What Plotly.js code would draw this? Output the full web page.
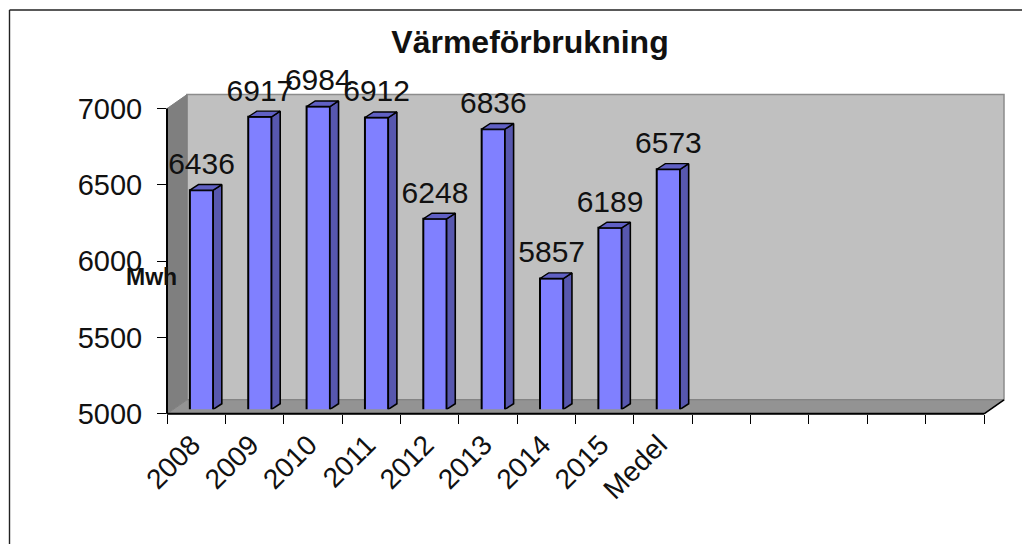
<!DOCTYPE html>
<html><head><meta charset="utf-8">
<script src="https://cdn.plot.ly/plotly-3.0.1.min.js"></script>
<style>html,body{margin:0;padding:0;background:#fff}#c{width:1022px;height:544px}</style>
</head><body><div id="c"></div>
<script>
const categories = ['2008','2009','2010','2011','2012','2013','2014','2015','Medel'];
const values = [6436,6917,6984,6912,6248,6836,5857,6189,6573];
const slotCount = 14;
const yTicks = [5000,5500,6000,6500,7000];

const W = 1022, H = 544;
const px = { left:167, right:984, bottom:413.8, top:108.6, depthX:20, depthY:14, barShift:4.5 };
const fx = p => p / W, fy = p => 1 - p / H;
const unitX = (px.right - px.left) / slotCount;
const unitY = (px.bottom - px.top) / 2000;

// bar geometry in data units
const barOffset = -0.108, barWidth = 0.4;
const sideDX = 8.6 / unitX, sideDY = 5.6 / unitY, labelGap = 3 / unitY;
const base = 5000;
// the bar axis runs further up so labels above 7000 stay in range
const barAxisMax = 7500;

const slots = Array.from({length: slotCount}, (_, i) => i);
const tickText = slots.map(i => categories[i] || '');
const boundaries = Array.from({length: slotCount + 1}, (_, i) => i - 0.5);

const sideX = [], sideY = [], topX = [], topY = [];
values.forEach((v, i) => {
  const l = i + barOffset, r = l + barWidth;
  sideX.push(r, r + sideDX, r + sideDX, r, r, null);
  sideY.push(base, base + sideDY, v + sideDY, v, base, null);
  topX.push(l, l + sideDX, r + sideDX, r, l, null);
  topY.push(v, v + sideDY, v + sideDY, v, v, null);
});

const ink = '#111111';
const font = 'Liberation Sans, Arial, sans-serif';

const traces = [
  { type:'scatter', mode:'markers', x: values.map((_, i) => i), y: values, xaxis:'x', yaxis:'y',
    marker:{ opacity:0, size:1 }, hoverinfo:'skip' },
  { type:'bar', x: values.map((_, i) => i), y: values, base: 0,
    width: barWidth, offset: barOffset, xaxis:'x', yaxis:'y2',
    marker:{ color:'#8080ff', line:{ color:'#000', width:2 } }, hoverinfo:'x+y' },
  { type:'scatter', mode:'lines', x: sideX, y: sideY, xaxis:'x', yaxis:'y2', fill:'toself',
    fillcolor:'#5757ae', line:{ color:'#000', width:1.6 }, hoverinfo:'skip', cliponaxis:false },
  { type:'scatter', mode:'lines', x: topX, y: topY, xaxis:'x', yaxis:'y2', fill:'toself',
    fillcolor:'#6060c4', line:{ color:'#000', width:1.4 }, hoverinfo:'skip', cliponaxis:false },
  { type:'scatter', mode:'text', x: values.map((_, i) => i + barOffset + barWidth / 2),
    y: values.map(v => v + sideDY + labelGap), text: values.map(String), textposition:'top center',
    textfont:{ family:font, size:30, color:ink }, xaxis:'x', yaxis:'y2',
    cliponaxis:false, hoverinfo:'skip' }
];

const poly = pts => 'M' + pts.map(p => fx(p[0]) + ',' + fy(p[1])).join('L') + 'Z';
const s = (path, fill, color, width) => ({ type:'path', xref:'paper', yref:'paper', layer:'below',
  path, fillcolor:fill, line:{ color, width } });
const edge = (x0, y0, x1, y1, color, width) => ({ type:'line', xref:'paper', yref:'paper', layer:'above',
  x0:fx(x0), y0:fy(y0), x1:fx(x1), y1:fy(y1), line:{ color, width } });
const L = px.left, R = px.right, T = px.top, B = px.bottom, dx = px.depthX, dy = px.depthY;
const barTopPx = (B - px.barShift) - (barAxisMax - 5000) * unitY;

const layout = {
  width:W, height:H, margin:{ l:0, r:0, t:0, b:0 },
  paper_bgcolor:'#ffffff', plot_bgcolor:'rgba(0,0,0,0)', showlegend:false,
  title:{ text:'<b>Värmeförbrukning</b>', x:fx(530), xanchor:'center', y:fy(42), yanchor:'middle',
    font:{ family:font, size:32, color:ink } },
  xaxis:{ type:'linear', domain:[fx(L), fx(R)], range:[-0.5, slotCount - 0.5], anchor:'y',
    tickmode:'array', tickvals:slots, ticktext:tickText, ticks:'', tickangle:-45,
    tickfont:{ family:font, size:28, color:ink }, ticklabelstandoff:8, ticklabelshift:-4,
    showgrid:false, zeroline:false, showline:false,
    minor:{ tickmode:'array', tickvals:boundaries, ticks:'outside', ticklen:9, tickwidth:1.4, tickcolor:'#000', showgrid:false } },
  yaxis:{ domain:[fy(B), fy(T)], range:[5000, 7000], anchor:'x',
    tickmode:'array', tickvals:yTicks, ticks:'outside', ticklen:9, tickwidth:1.4, tickcolor:'#000',
    tickfont:{ family:font, size:29, color:ink }, ticklabelstandoff:9,
    showgrid:false, zeroline:false, showline:false },
  yaxis2:{ domain:[fy(B - px.barShift), fy(barTopPx)], range:[5000, barAxisMax], anchor:'x',
    visible:false },
  shapes:[
    s(poly([[L+dx,T-dy],[R+dx,T-dy],[R+dx,B-dy],[L+dx,B-dy]]), '#c0c0c0', '#8c8c8c', 1.5),
    s(poly([[L,T],[L+dx,T-dy],[L+dx,B-dy],[L,B]]), '#7f7f7f', '#7f7f7f', 1),
    s(poly([[L,B],[L+dx,B-dy],[R+dx,B-dy],[R,B]]), '#939393', '#808080', 1),
    edge(L, T, L, B, '#000', 2),
    edge(L, B, R, B, '#000', 2),
    edge(R, B, R + dx, B - dy, '#000', 1.6),
    edge(9.5, 10, W, 10, '#222', 1.4),
    edge(9.5, 10, 9.5, H, '#222', 1.4)
  ],
  annotations:[
    { text:'<b>Mwh</b>', xref:'paper', yref:'paper', x:fx(151), y:fy(277), xanchor:'center', yanchor:'middle',
      showarrow:false, font:{ family:font, size:23, color:ink } }
  ]
};
Plotly.newPlot('c', traces, layout, { displayModeBar:false });
</script></body></html>
